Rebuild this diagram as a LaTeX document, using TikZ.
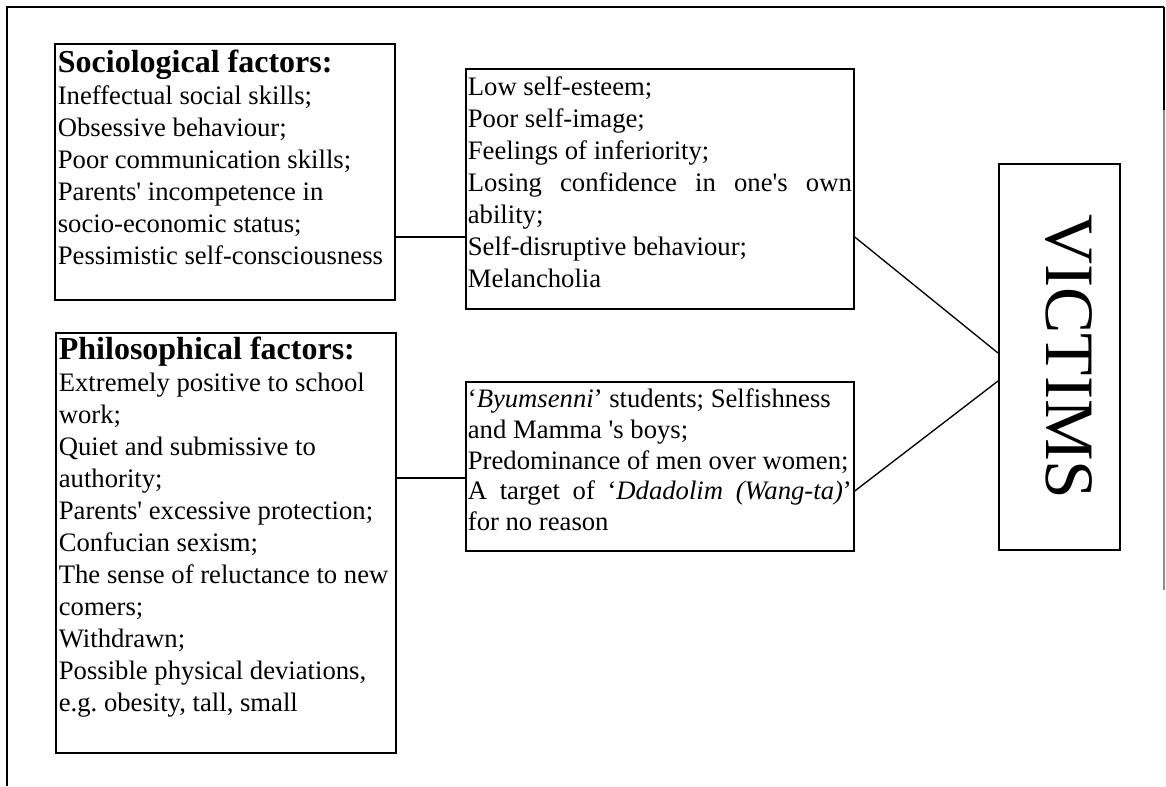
\documentclass[tikz,border=0pt]{standalone}
\usepackage{fontspec}
\usepackage{graphicx}
\setmainfont{Liberation Serif}[Ligatures=TeXOff]
\frenchspacing

\tikzset{
  box/.style={draw, line width=1.3pt, rectangle, anchor=north west, inner ysep=0pt,
    align=left, font=\fontsize{20}{24}\selectfont},
  link/.style={line width=1pt},
  frame/.style={line width=1.5pt},
}
% ordinary (stretchable) interword spaces inside the boxes
\newcommand{\normalspaces}{\spaceskip=0pt\xspaceskip=0pt\relax}
\newcommand{\boxhead}[1]{{\fontsize{24}{24}\selectfont\bfseries #1}}

\begin{document}
\begin{tikzpicture}[x=0.75pt, y=-0.75pt]
\useasboundingbox (0,0) rectangle (1166,786);

% page frame
\draw[frame] (1164,7) -- (7,7) -- (7,786);
\draw[frame] (1164,7) -- (1164,110);
\draw[line width=0.8pt, black!45] (1164,110) -- (1164,590);

% factor boxes
\node[box, inner xsep=2.25pt, text width=250.5pt, text height=21.75pt, text depth=170.25pt]
  (soc) at (54,43) {\normalspaces\boxhead{Sociological factors:}\\
  Ineffectual social skills;\\
  Obsessive behaviour;\\
  Poor communication skills;\\
  Parents' incompetence in\\
  socio-economic status;\\
  Pessimistic self-consciousness};

\node[box, inner xsep=2.25pt, text width=250.5pt, text height=20.25pt, text depth=294.75pt]
  (phil) at (55,332) {\normalspaces\boxhead{Philosophical factors:}\\
  Extremely positive to school\\
  work;\\
  Quiet and submissive to\\
  authority;\\
  Parents' excessive protection;\\
  Confucian sexism;\\
  The sense of reluctance to new\\
  comers;\\
  Withdrawn;\\
  Possible physical deviations,\\
  e.g. obesity, tall, small};

% effect boxes
\node[box, inner xsep=1.5pt, text width=288pt, text height=20.25pt, text depth=159.75pt]
  (self) at (465,68) {\normalspaces Low self-esteem;\\
  Poor self-image;\\
  Feelings of inferiority;\\
  \makebox[288pt][s]{Losing confidence in one's own}\\
  ability;\\
  Self-disruptive behaviour;\\
  Melancholia};

\node[box, inner xsep=1.5pt, text width=288pt, text height=19.5pt, text depth=107.25pt,
  font=\fontsize{20}{23}\selectfont]
  (tgt) at (465,381) {\normalspaces ‘\textit{Byumsenni}’ students; Selfishness\\
  and Mamma 's boys;\\
  Predominance of men over women;\\
  \makebox[288pt][s]{A target of ‘\textit{Ddadolim (Wang-ta)}’}\\
  for no reason};

% outcome box
\node[draw, line width=1.3pt, rectangle, anchor=north west, inner sep=0pt,
  minimum width=90.75pt, minimum height=289.5pt]
  (victims) at (998,163)
  {\hspace*{15pt}\rotatebox{-90}{\fontsize{52}{52}\selectfont VICTIMS}};

% connectors
\coordinate (ya) at (0,237);
\coordinate (yb) at (0,353);
\coordinate (yc) at (0,381);
\coordinate (yd) at (0,491);
\coordinate (ye) at (0,478);
\draw[link] (soc.east |- ya) -- (self.west |- ya);
\draw[link] (self.east |- ya) -- (victims.west |- yb);
\draw[link] (phil.east |- ye) -- (tgt.west |- ye);
\draw[link] (tgt.east |- yd) -- (victims.west |- yc);
\end{tikzpicture}
\end{document}
